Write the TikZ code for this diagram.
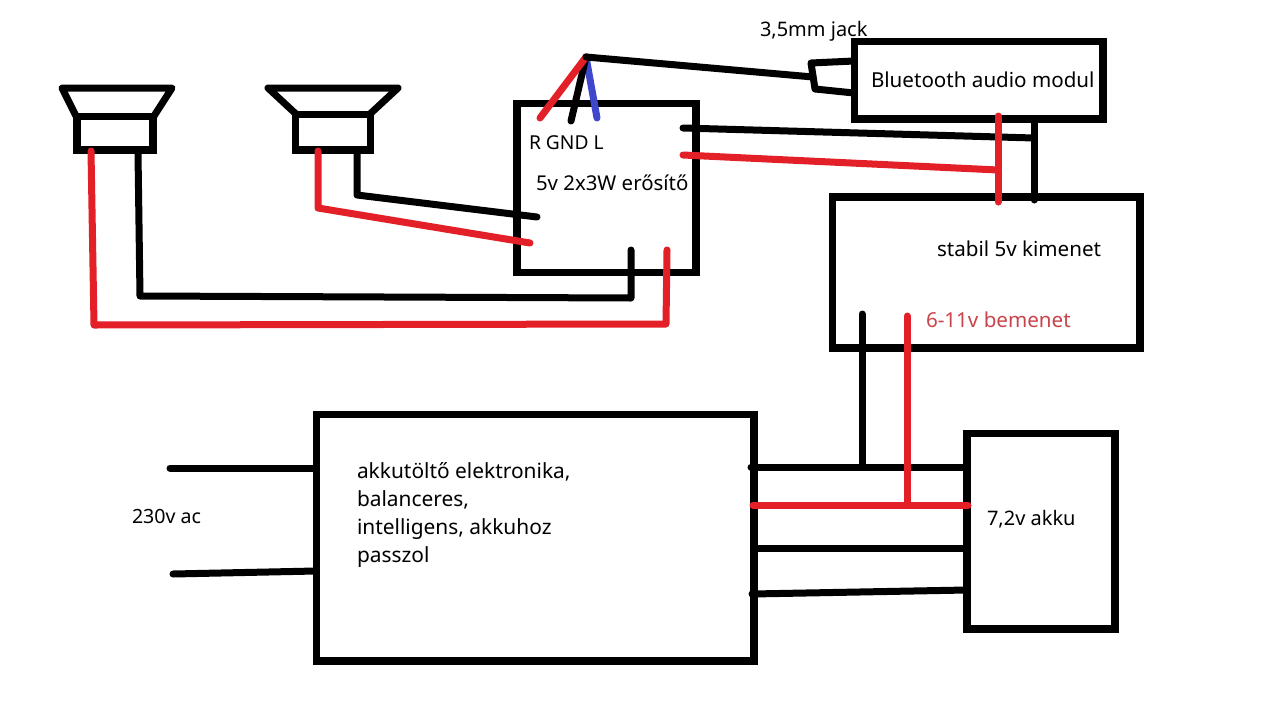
\documentclass[tikz,border=0pt]{standalone}
\usepackage{fontspec}
\setmainfont{Noto Sans}
\definecolor{wireRed}{HTML}{E31F28}
\definecolor{wireBlue}{HTML}{3F48CC}
\definecolor{labelRed}{HTML}{C9434A}
\tikzset{
  sketch box/.style={draw=black, line width=7.5pt, inner sep=0pt, outer sep=0pt},
  sketch wire/.style={draw=black, line width=7pt, line cap=round, line join=round},
  red wire/.style={sketch wire, draw=wireRed},
  blue wire/.style={sketch wire, draw=wireBlue},
  sketch label/.style={inner sep=0pt, outer sep=0pt, anchor=base west,
    font=\fontsize{20.6}{28}\selectfont, align=left}
}
\begin{document}
\begin{tikzpicture}[x=1pt,y=-1pt]
  \useasboundingbox (0,0) rectangle (1280,718);

  \node[sketch box,minimum width=179pt,minimum height=169pt] (amp) at (606.5,188) {};
  \node[sketch box,minimum width=248.5pt,minimum height=77.5pt] (bt) at (978.75,80.25) {};
  \node[sketch box,minimum width=307.5pt,minimum height=151pt] (stab) at (986.25,272.5) {};
  \node[sketch box,minimum width=437.5pt,minimum height=246.5pt] (charger) at (535,537.75) {};
  \node[sketch box,minimum width=148pt,minimum height=195.5pt] (akku) at (1041,531.25) {};
  \node[sketch box,minimum width=76pt,minimum height=33.5pt] (magL) at (115,133.25) {};
  \node[sketch box,minimum width=75pt,minimum height=35.5pt] (magR) at (333,132.25) {};

  \node[sketch label,font=\fontsize{20}{24}\selectfont] (jacktext) at (760,36) {3,5mm jack};
  \node[sketch label] (bttext) at (871,87) {Bluetooth audio modul};
  \node[sketch label,font=\fontsize{19.2}{24}\selectfont] (pins) at (529,149) {R GND L};
  \node[sketch label,font=\fontsize{20.4}{24}\selectfont] (amptext) at (536,190) {5v 2x3W erősítő};
  \node[sketch label] (stabtext) at (937,256) {stabil 5v kimenet};
  \node[sketch label,text=labelRed] (intext) at (926,327) {6-11v bemenet};
  \node[sketch label,anchor=north west,font=\fontsize{20.9}{28}\selectfont] (chargertext) at (357,462) {akkutöltő elektronika,\\balanceres,\\intelligens, akkuhoz\\passzol};
  \node[sketch label,font=\fontsize{19.6}{24}\selectfont] (acttext) at (132,523) {230v ac};
  \node[sketch label,font=\fontsize{20}{24}\selectfont] (akkutext) at (987,525) {7,2v akku};

  % speaker cones
  \coordinate (coneLa) at (62,88);
  \coordinate (coneLb) at (172,88);
  \coordinate (coneLc) at (76,116);
  \coordinate (coneLd) at (154,116);
  \coordinate (coneRa) at (268,88);
  \coordinate (coneRb) at (398,88);
  \coordinate (coneRc) at (296,114);
  \coordinate (coneRd) at (370,114);
  \draw[sketch wire] (coneLc) -- (coneLa) -- (coneLb) -- (coneLd);
  \draw[sketch wire] (coneRc) -- (coneRa) -- (coneRb) -- (coneRd);

  % left speaker to amp
  \coordinate (redLa) at (91,151);
  \coordinate (redLb) at (94,325);
  \coordinate (redLc) at (666,324);
  \coordinate (redLd) at (667,250);
  \coordinate (blkLa) at (138,153);
  \coordinate (blkLb) at (140,296);
  \coordinate (blkLc) at (631,298);
  \coordinate (blkLd) at (631,250);
  \draw[red wire] (redLa) -- (redLb) -- (redLc) -- (redLd);
  \draw[sketch wire] (blkLa) -- (blkLb) -- (blkLc) -- (blkLd);

  % right speaker to amp
  \coordinate (redRa) at (318,151);
  \coordinate (redRb) at (318,208);
  \coordinate (redRc) at (530,243);
  \coordinate (blkRa) at (357,153);
  \coordinate (blkRb) at (357,195);
  \coordinate (blkRc) at (537,217);
  \draw[red wire] (redRa) -- (redRb) -- (redRc);
  \draw[sketch wire] (blkRa) -- (blkRb) -- (blkRc);

  % audio input and jack
  \coordinate (fork) at (586,57);
  \coordinate (pinR) at (540,118);
  \coordinate (pinG) at (571,121);
  \coordinate (pinB) at (597,118);
  \coordinate (jackTop) at (811,63);
  \coordinate (jackMid) at (813,77);
  \coordinate (jackBot) at (815,89);
  \coordinate (btTop) at (854,61);
  \coordinate (btBot) at (854,93);
  \draw[blue wire] (fork) -- (pinB);
  \draw[sketch wire] (fork) -- (pinG);
  \draw[red wire] (fork) -- (pinR);
  \draw[sketch wire] (fork) -- (jackMid);
  \draw[sketch wire] (btTop) -- (jackTop) -- (jackBot) -- (btBot);

  % 5v supply
  \coordinate (ampBlk) at (683,128);
  \coordinate (ampRed) at (683,155);
  \coordinate (busBlk) at (1034,138);
  \coordinate (busRed) at (998,170);
  \coordinate (btBlk) at (1034,120);
  \coordinate (btRed) at (998,116);
  \coordinate (stabBlk) at (1034,200);
  \coordinate (stabRed) at (998,202);
  \draw[sketch wire] (ampBlk) -- (busBlk);
  \draw[sketch wire] (btBlk) -- (stabBlk);
  \draw[red wire] (ampRed) -- (busRed);
  \draw[red wire] (btRed) -- (stabRed);

  % charger and battery
  \coordinate (chgA) at (751,467);
  \coordinate (chgB) at (753,505);
  \coordinate (chgC) at (754,548);
  \coordinate (chgD) at (752,594);
  \coordinate (batA) at (967,467);
  \coordinate (batB) at (968,505);
  \coordinate (batC) at (967,548);
  \coordinate (batD) at (967,590);
  \coordinate (stabInB) at (862,314);
  \coordinate (tapB) at (862,467);
  \coordinate (stabInR) at (907,316);
  \coordinate (tapR) at (907,505);
  \draw[sketch wire] (chgA) -- (batA);
  \draw[sketch wire] (chgC) -- (batC);
  \draw[sketch wire] (chgD) -- (batD);
  \draw[sketch wire] (stabInB) -- (tapB);
  \draw[red wire] (chgB) -- (batB);
  \draw[red wire] (stabInR) -- (tapR);

  % mains
  \coordinate (acA) at (170,468);
  \coordinate (acB) at (173,574);
  \coordinate (chgInA) at (316,468);
  \coordinate (chgInB) at (316,571);
  \draw[sketch wire] (acA) -- (chgInA);
  \draw[sketch wire] (acB) -- (chgInB);
\end{tikzpicture}
\end{document}
